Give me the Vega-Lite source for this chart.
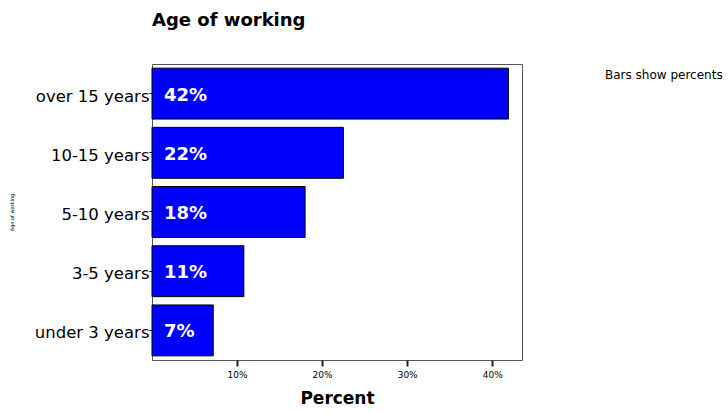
{
  "$schema": "https://vega.github.io/schema/vega-lite/v6.json",
  "width": 370,
  "height": 296,
  "autosize": "none",
  "padding": {"left": 152, "top": 64, "right": 206, "bottom": 52},
  "background": "white",
  "config": {
    "view": {"stroke": "#555", "strokeWidth": 1},
    "font": "DejaVu Sans"
  },
  "title": {
    "text": "Age of working",
    "anchor": "start",
    "frame": "group",
    "fontSize": 18,
    "fontWeight": "bold",
    "font": "DejaVu Sans",
    "color": "#000",
    "offset": 34
  },
  "data": {
    "values": [
      {"group": "over 15 years", "pct": 41.9, "label": "42%", "note": "Bars show percents"},
      {"group": "10-15 years", "pct": 22.5, "label": "22%", "note": "Bars show percents"},
      {"group": "5-10 years", "pct": 18.0, "label": "18%", "note": "Bars show percents"},
      {"group": "3-5 years", "pct": 10.8, "label": "11%", "note": "Bars show percents"},
      {"group": "under 3 years", "pct": 7.2, "label": "7%", "note": "Bars show percents"}
    ]
  },
  "encoding": {
    "y": {
      "field": "group",
      "type": "nominal",
      "sort": null,
      "scale": {"paddingInner": 0.14, "paddingOuter": 0.07},
      "axis": {
        "title": "Age of working",
        "titleFontSize": 5,
        "titleFontWeight": "normal",
        "titleX": -138,
        "titleColor": "#000",
        "labelFontSize": 16.5,
        "labelFont": "DejaVu Sans",
        "labelColor": "#000",
        "labelPadding": 0,
        "labelOffset": 3,
        "tickSize": 3,
        "tickColor": "#000",
        "domain": false
      }
    }
  },
  "layer": [
    {
      "mark": {"type": "bar", "color": "#0000ff", "stroke": "#000", "strokeWidth": 1},
      "encoding": {
        "x": {
          "field": "pct",
          "type": "quantitative",
          "scale": {"domain": [0, 43.5], "nice": false},
          "axis": {
            "title": "Percent",
            "titleFont": "DejaVu Sans",
            "titleFontSize": 17,
            "titleFontWeight": "bold",
            "titleColor": "#000",
            "titlePadding": 11,
            "values": [10, 20, 30, 40],
            "labelExpr": "datum.value + '%'",
            "labelFont": "DejaVu Sans",
            "labelFontSize": 9,
            "labelColor": "#000",
            "labelPadding": 4,
            "tickSize": 6,
            "tickWidth": 2,
            "tickColor": "#222",
            "domain": false,
            "grid": false
          }
        },
        "fill": {
          "field": "note",
          "type": "nominal",
          "scale": {"range": ["#0000ff"]},
          "legend": {
            "title": null,
            "orient": "none",
            "legendX": 441,
            "legendY": 5,
            "symbolSize": 0,
            "symbolStrokeWidth": 0,
            "symbolOpacity": 0,
            "labelFont": "DejaVu Sans",
            "labelFontSize": 12,
            "labelColor": "#000",
            "labelOffset": 0
          }
        }
      }
    },
    {
      "mark": {"type": "text", "align": "left", "baseline": "middle", "dx": 12, "dy": 2, "color": "white", "fontSize": 18, "fontWeight": "bold", "font": "DejaVu Sans"},
      "encoding": {
        "x": {"datum": 0, "type": "quantitative"},
        "text": {"field": "label"}
      }
    }
  ]
}
